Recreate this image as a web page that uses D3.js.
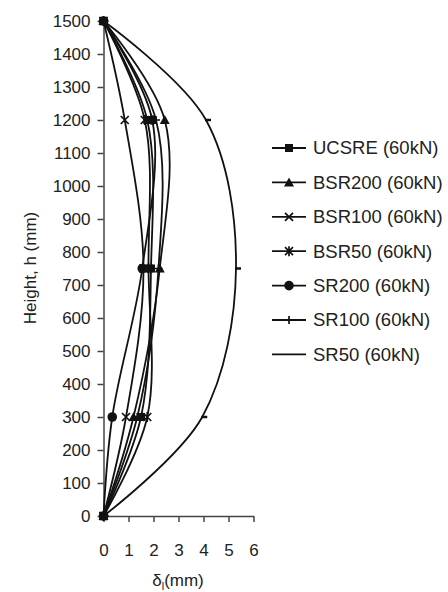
<!DOCTYPE html>
<html><head><meta charset="utf-8">
<script src="https://cdn.jsdelivr.net/npm/d3@7"></script>
<style>body{margin:0;background:#fff}text{font-family:"Liberation Sans",Arial,sans-serif;fill:#222}</style>
</head><body><svg id="c" width="448" height="592"></svg>
<script>
const heights = [0, 300, 750, 1200, 1500];
const seriesNames = ["UCSRE (60kN)","BSR200 (60kN)","BSR100 (60kN)","BSR50 (60kN)","SR200 (60kN)","SR100 (60kN)","SR50 (60kN)"];
const markers = ["square","triangle","cross","star","circle","plus","dash"];
const UCSRE  = [0, 1.5, 1.9, 1.75, 0];
const BSR200 = [0, 1.2, 2.25, 2.45, 0];
const BSR100 = [0, 0.9, 1.6, 0.85, 0];
const BSR50  = [0, 1.75, 1.8, 1.65, 0];
const SR200  = [0, 0.35, 1.55, 1.95, 0];
const SR100  = [0, 1.35, 2.2, 2.1, 0];
const SR50   = [0, 3.95, 5.3, 4.1, 0];
const seriesValues = [UCSRE, BSR200, BSR100, BSR50, SR200, SR100, SR50];
const xTicks = [0,1,2,3,4,5,6];
const yTicks = [0,100,200,300,400,500,600,700,800,900,1000,1100,1200,1300,1400,1500];

const svg = d3.select("#c");
const x = d3.scaleLinear().domain([0,6]).range([103.5,253.5]);
const y = d3.scaleLinear().domain([0,1500]).range([516,21]);

// axes
const ax = svg.append("g").attr("transform","translate(0,516)")
  .call(d3.axisBottom(x).tickValues(xTicks).tickFormat(d3.format("d")).tickSize(6).tickPadding(22).tickSizeOuter(0));
const ay = svg.append("g").attr("transform","translate(103.5,0)")
  .call(d3.axisLeft(y).tickValues(yTicks).tickFormat(d3.format("d")).tickSize(6).tickPadding(7).tickSizeOuter(0));
[ax,ay].forEach(g=>{
  g.selectAll("path,line").attr("stroke","#444").attr("stroke-width",1.5);
  g.selectAll("text").attr("font-size",17).attr("font-family","Liberation Sans, Arial, sans-serif").attr("fill","#222");
});

svg.append("text").attr("transform","translate(36,268) rotate(-90)").attr("text-anchor","middle")
  .attr("font-size",17).text("Height, h (mm)");
const xt = svg.append("text").attr("x",178).attr("y",586).attr("text-anchor","middle").attr("font-size",17);
xt.append("tspan").text("δ");
xt.append("tspan").attr("font-size",11).attr("dy",4).text("l");
xt.append("tspan").attr("dy",-4).text("(mm)");

const line = d3.line().x(d=>x(d[0])).y(d=>y(d[1])).curve(d3.curveCatmullRom.alpha(0.5));

function drawMarker(g, type, cx, cy){
  const s = g.append("g").attr("transform",`translate(${cx},${cy})`);
  const sc = "#111", sw = 1.7;
  if(type==="square") s.append("rect").attr("x",-4).attr("y",-4).attr("width",8).attr("height",8).attr("fill","#111");
  else if(type==="triangle") s.append("path").attr("d","M0,-5L5,4L-5,4Z").attr("fill","#111");
  else if(type==="circle") s.append("circle").attr("r",4.8).attr("fill","#111");
  else if(type==="cross") s.append("path").attr("d","M-4,-4L4,4M-4,4L4,-4").attr("stroke",sc).attr("stroke-width",sw);
  else if(type==="star") s.append("path").attr("d","M-4,-4L4,4M-4,4L4,-4M0,-5L0,5").attr("stroke",sc).attr("stroke-width",sw);
  else if(type==="plus") s.append("path").attr("d","M-4,0L4,0M0,-4L0,4").attr("stroke",sc).attr("stroke-width",sw);
  else if(type==="dash") s.append("path").attr("d","M-1,0L5,0").attr("stroke",sc).attr("stroke-width",2.5);
}

seriesValues.forEach((vals,i)=>{
  const pts = vals.map((v,j)=>[v,heights[j]]);
  svg.append("path").attr("d",line(pts)).attr("fill","none").attr("stroke","#111").attr("stroke-width",1.8);
});
seriesValues.forEach((vals,i)=>{
  const g = svg.append("g");
  vals.forEach((v,j)=>drawMarker(g, markers[i], x(v), y(heights[j])));
});

// legend
const lg = svg.append("g");
seriesNames.forEach((n,i)=>{
  const yy = 148 + i*34.4;
  lg.append("line").attr("x1",272).attr("x2",306).attr("y1",yy).attr("y2",yy).attr("stroke","#111").attr("stroke-width",1.8);
  if(markers[i]!=="dash") drawMarker(lg, markers[i], 289, yy);
  lg.append("text").attr("x",313).attr("y",yy).attr("dy","0.35em").attr("font-size",18.5).text(n);
});
</script></body></html>
